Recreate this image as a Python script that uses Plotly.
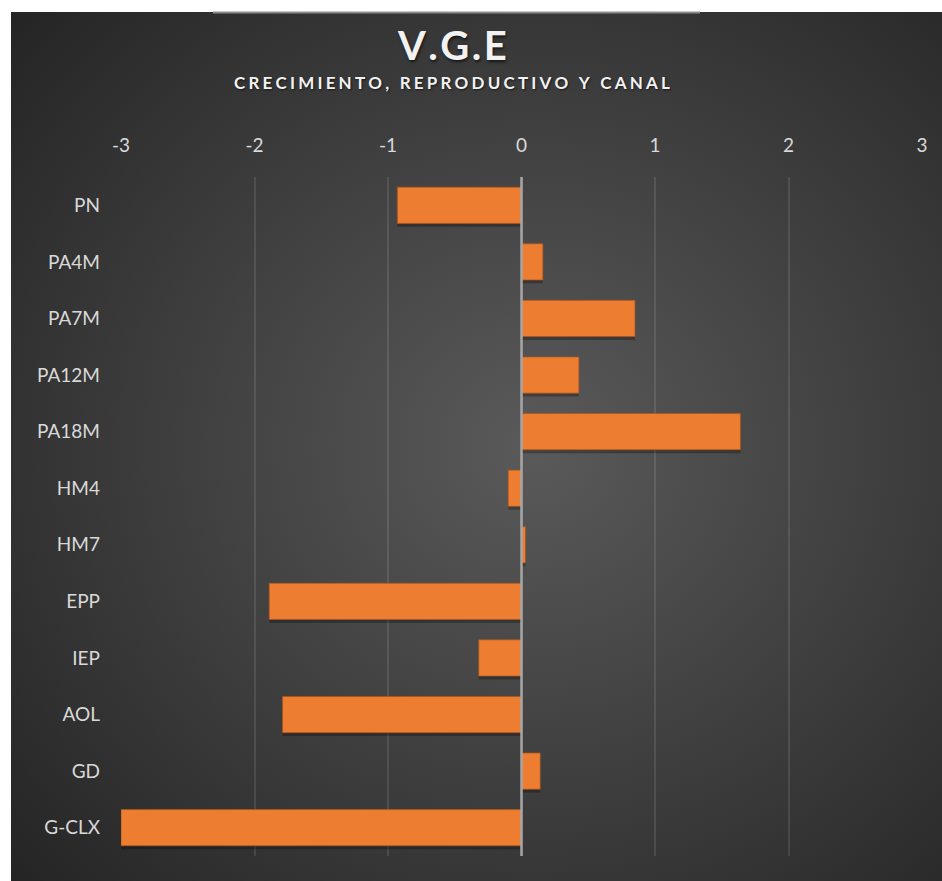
import base64
import plotly.graph_objects as go

categories = ["PN", "PA4M", "PA7M", "PA12M", "PA18M", "HM4", "HM7", "EPP", "IEP", "AOL", "GD", "G-CLX"]
values = [-0.93, 0.16, 0.85, 0.43, 1.64, -0.10, 0.03, -1.89, -0.32, -1.79, 0.14, -3.0]
x_ticks = [-3, -2, -1, 0, 1, 2, 3]
title_text = "V.G.E"
subtitle_text = "CRECIMIENTO, REPRODUCTIVO Y CANAL"

W, H = 942, 881
L, R, T, B = 121, 20, 177, 25
pw, ph = W - L - R, H - T - B

# dark panel with radial gradient (pixel area 11..942 x 12..881)
px0, py0, px1, py1 = 11, 12, 942, 881
gw, gh = px1 - px0, py1 - py0
svg = (f'<svg xmlns="http://www.w3.org/2000/svg" width="{gw}" height="{gh}" viewBox="0 0 {gw} {gh}">'
       '<defs><radialGradient id="g" cx="0.56" cy="0.5" r="0.74">'
       '<stop offset="0" stop-color="#5a5a5a"/><stop offset="1" stop-color="#252525"/>'
       '</radialGradient></defs>'
       f'<rect width="{gw}" height="{gh}" fill="url(#g)"/></svg>')
src = "data:image/svg+xml;base64," + base64.b64encode(svg.encode()).decode()

def fx(p):
    return (p - L) / pw

def fy(p):
    return 1 + (T - p) / ph

spaced_sub = "\u2009\u200a".join(list(subtitle_text))
spaced_title = "\u200a".join(list(title_text))

bar_w = 0.64
fig = go.Figure()
# soft drop shadow under the bars
fig.add_trace(go.Bar(
    y=categories, x=values, orientation="h",
    width=bar_w, offset=-bar_w / 2 + 0.06,
    marker=dict(color="rgba(0,0,0,0.28)", line=dict(width=0)),
    hoverinfo="skip",
))
fig.add_trace(go.Bar(
    y=categories, x=values, orientation="h",
    width=bar_w, offset=-bar_w / 2,
    marker=dict(color="#ED7D31", line=dict(color="rgba(170,85,30,0.7)", width=1)),
    hoverinfo="x+y",
))

fig.update_layout(
    width=W, height=H,
    margin=dict(l=L, r=R, t=T, b=B, pad=0),
    paper_bgcolor="white",
    plot_bgcolor="rgba(0,0,0,0)",
    barmode="overlay",
    showlegend=False,
    font=dict(family="Lato, 'Open Sans', sans-serif", color="#d9d9d9", size=19),
    images=[dict(source=src, xref="paper", yref="paper",
                 x=fx(px0), y=fy(py0), sizex=gw / pw, sizey=gh / ph,
                 xanchor="left", yanchor="top", sizing="stretch", layer="below")],
    xaxis=dict(range=[-3, 3], tickvals=x_ticks, ticktext=[str(v) for v in x_ticks],
               side="top", showgrid=True, gridcolor="rgba(255,255,255,0.1)", gridwidth=1.5,
               zeroline=False, showline=False, ticks="", ticklabelstandoff=20,
               tickfont=dict(size=19, color="#d9d9d9")),
    yaxis=dict(categoryorder="array", categoryarray=categories, autorange="reversed",
               showgrid=False, zeroline=False, showline=False, ticks="",
               ticklabelstandoff=20, tickfont=dict(size=19, color="#d9d9d9")),
    shapes=[
        dict(type="line", xref="x", yref="paper", x0=0, x1=0, y0=0, y1=1,
             line=dict(color="#a6a6a6", width=2.5), layer="above"),
        dict(type="line", xref="paper", yref="paper", x0=fx(213), x1=fx(700), y0=fy(12.5), y1=fy(12.5),
             line=dict(color="#8c8c8c", width=2), layer="above"),
    ],
    annotations=[
        dict(text=f"<b>{spaced_title}</b>", xref="paper", yref="paper", x=fx(452), y=fy(45),
             xanchor="center", yanchor="middle", showarrow=False,
             font=dict(family="Lato, 'Open Sans', sans-serif", size=40, color="#f2f2f2",
                       shadow="1px 2px 3px rgba(0,0,0,0.6)")),
        dict(text=f"<b>{spaced_sub}</b>", xref="paper", yref="paper", x=fx(452), y=fy(82),
             xanchor="center", yanchor="middle", showarrow=False,
             font=dict(family="Lato, 'Open Sans', sans-serif", size=17, color="#f2f2f2",
                       shadow="1px 1px 2px rgba(0,0,0,0.6)")),
    ],
)

fig.write_html("out.html", config={"displayModeBar": False},
               post_script="document.body.style.margin='0';document.body.style.padding='0';")
